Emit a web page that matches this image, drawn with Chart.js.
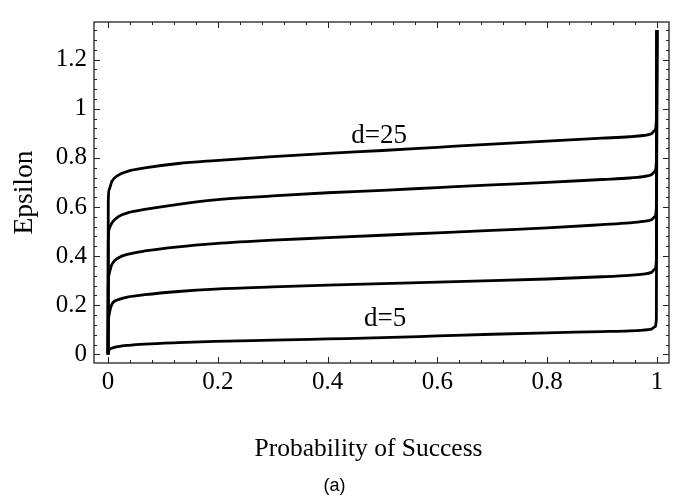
<!DOCTYPE html>
<html>
<head>
<meta charset="utf-8">
<script src="https://cdn.jsdelivr.net/npm/chart.js@4"></script>
<style>
  html, body { margin: 0; padding: 0; background: #fff; }
  #wrap { width: 679px; height: 499px; }
</style>
</head>
<body>
<div id="wrap"><canvas id="epsChart"></canvas></div>
<script>
// probability of success (shared x values for every curve)
const probs = [0, 0.0005, 0.002, 0.007, 0.019, 0.037, 0.067, 0.128, 0.195, 0.3, 0.4,
               0.5, 0.6, 0.7, 0.8, 0.9, 0.95, 0.975, 0.99, 0.996, 0.999, 1];

// epsilon for each d
const epsD5  = [0, 0.008, 0.018, 0.025, 0.032, 0.037, 0.042, 0.048, 0.053, 0.058, 0.063,
                0.068, 0.075, 0.082, 0.088, 0.093, 0.096, 0.099, 0.103, 0.112, 0.145, 1.32];
const epsD10 = [0, 0.11, 0.16, 0.204, 0.223, 0.234, 0.243, 0.256, 0.266, 0.275, 0.282,
                0.288, 0.294, 0.3, 0.307, 0.316, 0.322, 0.327, 0.334, 0.346, 0.385, 1.32];
const epsD15 = [0, 0.27, 0.327, 0.366, 0.393, 0.408, 0.421, 0.438, 0.451, 0.465, 0.475,
                0.485, 0.495, 0.505, 0.515, 0.528, 0.535, 0.541, 0.548, 0.56, 0.6, 1.32];
const epsD20 = [0, 0.45, 0.51, 0.535, 0.561, 0.577, 0.59, 0.611, 0.629, 0.645, 0.658,
                0.668, 0.679, 0.69, 0.7, 0.712, 0.718, 0.724, 0.731, 0.744, 0.785, 1.32];
const epsD25 = [0, 0.62, 0.67, 0.704, 0.73, 0.746, 0.759, 0.777, 0.789, 0.805, 0.818,
                0.83, 0.843, 0.856, 0.868, 0.88, 0.886, 0.891, 0.898, 0.912, 0.955, 1.32];

const seriesNames = ['d=5', 'd=10', 'd=15', 'd=20', 'd=25'];
const seriesValues = [epsD5, epsD10, epsD15, epsD20, epsD25];

const xTickValues = [0, 0.2, 0.4, 0.6, 0.8, 1];
const yTickValues = [0, 0.2, 0.4, 0.6, 0.8, 1, 1.2];

// curve labels, placed in data coordinates
const curveNotes = [
  { text: 'd=25', x: 0.494, y: 0.862 },
  { text: 'd=5',  x: 0.505, y: 0.117 }
];

const serif = "'Liberation Serif', 'Times New Roman', serif";

const datasets = seriesNames.map((name, i) => ({
  label: name,
  data: probs.map((p, j) => ({ x: p, y: seriesValues[i][j] })),
  borderColor: '#000',
  borderWidth: 2.8,
  pointRadius: 0,
  fill: false,
  cubicInterpolationMode: 'monotone'
}));

// frame around the plot with inward ticks on all four sides, plus text
const frameTicks = {
  id: 'frameTicks',
  afterDraw(chart) {
    const { ctx, chartArea: a, scales: { x, y } } = chart;
    ctx.save();
    ctx.strokeStyle = '#222';
    ctx.lineWidth = 1.3;
    ctx.strokeRect(a.left, a.top, a.right - a.left, a.bottom - a.top);

    ctx.lineWidth = 1;
    ctx.beginPath();
    for (let i = 0; i <= 25; i++) {
      const px = Math.round(x.getPixelForValue(i * 0.04)) + 0.5;
      const len = i % 5 === 0 ? 6 : 3;
      ctx.moveTo(px, a.bottom); ctx.lineTo(px, a.bottom - len);
      ctx.moveTo(px, a.top); ctx.lineTo(px, a.top + len);
    }
    for (let i = 0; i <= 33; i++) {
      const py = Math.round(y.getPixelForValue(i * 0.04)) + 0.5;
      const len = i % 5 === 0 ? 6 : 3;
      ctx.moveTo(a.left, py); ctx.lineTo(a.left + len, py);
      ctx.moveTo(a.right, py); ctx.lineTo(a.right - len, py);
    }
    ctx.stroke();

    ctx.fillStyle = '#000';
    ctx.textAlign = 'center';
    ctx.textBaseline = 'alphabetic';
    ctx.font = '27px ' + serif;
    curveNotes.forEach(n => {
      ctx.fillText(n.text, x.getPixelForValue(n.x), y.getPixelForValue(n.y));
    });

    // x axis title sits a little left of the plot centre
    ctx.font = '25.5px ' + serif;
    ctx.fillText('Probability of Success', (a.left + a.right) / 2 - 13, a.bottom + 93);
    ctx.restore();
  }
};

new Chart(document.getElementById('epsChart'), {
  type: 'line',
  data: { datasets },
  options: {
    responsive: true,
    maintainAspectRatio: false,
    animation: false,
    layout: { padding: { top: 7, right: 10, left: 0, bottom: 0 } },
    plugins: {
      legend: { display: false },
      tooltip: { enabled: false },
      title: {
        display: true,
        text: '(a)',
        position: 'bottom',
        color: '#000',
        font: { family: "'Liberation Sans', Arial, sans-serif", size: 18, weight: 'normal' },
        padding: { top: 0, bottom: 2 }
      }
    },
    scales: {
      x: {
        type: 'linear',
        min: -0.0255,
        max: 1.022,
        grid: { display: false, drawTicks: false },
        border: { display: false },
        afterBuildTicks: s => { s.ticks = xTickValues.map(v => ({ value: v })); },
        afterFit: s => { s.height = 112.4; },
        ticks: {
          color: '#000',
          padding: 4,
          maxRotation: 0,
          font: { family: serif, size: 25 },
          callback: v => String(v)
        }
      },
      y: {
        type: 'linear',
        min: -0.035,
        max: 1.353,
        grid: { display: false, drawTicks: false },
        border: { display: false },
        afterBuildTicks: s => { s.ticks = yTickValues.map(v => ({ value: v })); },
        afterFit: s => { s.width = 94; },
        ticks: {
          color: '#000',
          padding: 7,
          font: { family: serif, size: 25 },
          callback: v => String(v)
        },
        title: {
          display: true,
          text: 'Epsilon',
          color: '#000',
          font: { family: serif, size: 27.5 },
          padding: { top: 8, bottom: 0 }
        }
      }
    }
  },
  plugins: [frameTicks]
});
</script>
</body>
</html>
